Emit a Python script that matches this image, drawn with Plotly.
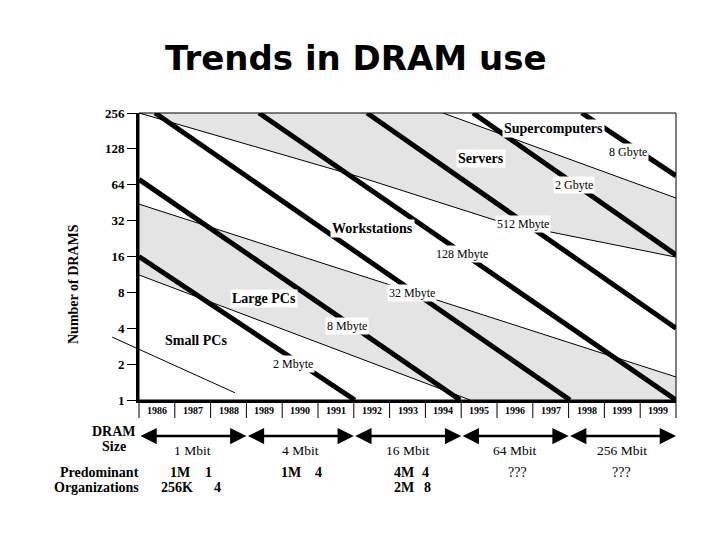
import math
import plotly.graph_objects as go

# ---------------- data ----------------
years = ["1986", "1987", "1988", "1989", "1990", "1991", "1992", "1993",
         "1994", "1995", "1996", "1997", "1998", "1999", "1999"]
y_tick_vals = [1, 2, 4, 8, 16, 32, 64, 128, 256]

# thick lines: total memory size (x in year-columns, y = number of DRAMs)
mem_labels = ["2 Mbyte", "8 Mbyte", "32 Mbyte", "128 Mbyte", "512 Mbyte", "2 Gbyte", "8 Gbyte"]
mem_x0 = [0, 0, 0.45, 3.35, 6.37, 9.33, 12.37]
mem_y0 = [16, 71, 256, 256, 256, 256, 256]
mem_x1 = [6.03, 8.97, 12.04, 15, 15, 15, 15]
mem_y1 = [1, 1, 1, 1, 4, 16.5, 76]

# thin boundary lines between market segments
small_lo_x = [-0.75, 2.68]
small_lo_y = [3.37, 1.15]
small_hi_x = [0, 9.25]
small_hi_y = [11.2, 1]
large_hi_x = [0, 15]
large_hi_y = [44, 1.56]
work_hi_x = [0, 6.17, 10.1, 15]
work_hi_y = [256, 74.3, 31.2, 15.8]
serv_hi_x = [8.49, 15]
serv_hi_y = [256, 49.5]

segments = ["Supercomputers", "Servers", "Workstations", "Large PCs", "Small PCs"]
dram_sizes = ["1 Mbit", "4 Mbit", "16 Mbit", "64 Mbit", "256 Mbit"]
dram_start = [0, 3, 6, 9, 12]
dram_end = [3, 6, 9, 12, 15]
org_tokens = ["1M", "1", "256K", "4", "1M", "4", "4M", "4", "2M", "8", "???", "???"]

# ---------------- geometry ----------------
W, H = 720, 540
L, R, T, B = 100, 44, 113, 140
AX_LEFT = 139
plot_w = W - L - R
plot_h = H - T - B
d = (AX_LEFT - L) / plot_w
ncol = len(years)
col_px = (W - R - AX_LEFT) / ncol
x2_min = -(AX_LEFT - L) / col_px
ytop = math.log10(y_tick_vals[-1])


def px(xp):
    return (xp - L) / plot_w


def py(yp):
    return (H - B - yp) / plot_h


SERIF = "Liberation Serif"
GRAY = "#e4e4e4"

fig = go.Figure()

# shaded segments
servers_x = [0] + serv_hi_x + work_hi_x[::-1]
servers_y = [y_tick_vals[-1]] + serv_hi_y + work_hi_y[::-1]
large_x = large_hi_x + [ncol] + small_hi_x[::-1]
large_y = large_hi_y + [y_tick_vals[0]] + small_hi_y[::-1]
for fx, fy in [(servers_x, servers_y), (large_x, large_y)]:
    fig.add_trace(go.Scatter(x=fx, y=fy, fill="toself", fillcolor=GRAY, mode="lines",
                             line=dict(width=0, color=GRAY), hoverinfo="skip",
                             showlegend=False))

# thin boundary lines
for bx, by in [(small_hi_x, small_hi_y), (large_hi_x, large_hi_y),
               (work_hi_x, work_hi_y), (serv_hi_x, serv_hi_y)]:
    fig.add_trace(go.Scatter(x=bx, y=by, mode="lines", line=dict(width=1, color="black"),
                             hoverinfo="skip", showlegend=False))
fig.add_trace(go.Scatter(x=small_lo_x, y=small_lo_y, mode="lines",
                         line=dict(width=1, color="black"), xaxis="x2", yaxis="y2",
                         hoverinfo="skip", showlegend=False))

# thick memory-size lines
for i in range(len(mem_labels)):
    fig.add_trace(go.Scatter(x=[mem_x0[i], mem_x1[i]], y=[mem_y0[i], mem_y1[i]],
                             mode="lines", line=dict(width=5, color="black"),
                             hoverinfo="skip", showlegend=False, name=mem_labels[i]))

ann = []


def label(text, xp, yp, size=12, bold=False, bg="white", xanchor="center", angle=0):
    ann.append(dict(text=text, x=px(xp), y=py(yp), xref="paper", yref="paper",
                    showarrow=False, xanchor=xanchor, yanchor="middle",
                    textangle=angle,
                    font=dict(family=SERIF, size=size, color="black",
                              weight="bold" if bold else "normal"),
                    bgcolor=bg, borderpad=1))


# segment labels
seg_pos = [(553, 128), (481, 158), (372, 228), (264, 298), (196, 340)]
for s, (xp, yp) in zip(segments, seg_pos):
    label(s, xp, yp, size=14, bold=True)

# memory labels
mem_pos = [(293, 364), (347, 326), (412, 293), (462, 254), (523, 224), (574, 185), (628, 152)]
for s, (xp, yp) in zip(mem_labels, mem_pos):
    label(s, xp, yp, size=12)

# title
ann.append(dict(text="Trends in DRAM use", x=px(356), y=py(58), xref="paper", yref="paper",
                showarrow=False, xanchor="center", yanchor="middle",
                font=dict(family="DejaVu Sans", size=34, color="black", weight="bold")))

# y-axis title
label("Number of DRAMS", 73, 284, size=14, bold=True, bg="rgba(0,0,0,0)", angle=-90)

# year cells
for i, yr in enumerate(years):
    ann.append(dict(text=yr, x=i + 0.5, y=py(410), xref="x", yref="paper", showarrow=False,
                    xanchor="center", yanchor="middle",
                    font=dict(family=SERIF, size=10, color="black", weight="bold")))

# DRAM size row
label("DRAM", 114, 431, size=14, bold=True, bg="rgba(0,0,0,0)")
label("Size", 114, 446, size=14, bold=True, bg="rgba(0,0,0,0)")
for i, s in enumerate(dram_sizes):
    ann.append(dict(text="", x=dram_end[i], y=py(436), xref="x", yref="paper",
                    ax=dram_start[i], ay=0, axref="x", showarrow=True,
                    arrowside="end+start", arrowhead=2, startarrowhead=2,
                    arrowsize=1.3, startarrowsize=1.3, arrowwidth=2.5,
                    arrowcolor="black", standoff=0, startstandoff=0))
    ann.append(dict(text=s, x=(dram_start[i] + dram_end[i]) / 2, y=py(450), xref="x",
                    yref="paper", showarrow=False, xanchor="center", yanchor="middle",
                    font=dict(family=SERIF, size=13.5, color="black")))

# organizations row
label("Predominant", 141, 472, size=14, bold=True, bg="rgba(0,0,0,0)", xanchor="right")
label("Organizations", 141, 487, size=14, bold=True, bg="rgba(0,0,0,0)", xanchor="right")
org_pos = [(180, 472), (208, 472), (177, 487), (217, 487), (291, 472), (318, 472),
           (404, 472), (425, 472), (404, 487), (427, 487), (517, 472), (621, 472)]
for s, (xp, yp) in zip(org_tokens, org_pos):
    label(s, xp, yp, size=14, bold=(s != "???"), bg="rgba(0,0,0,0)")

# shapes: top/right border and year-cell separators
shapes = [dict(type="rect", xref="x domain", yref="y domain", x0=0, x1=1, y0=0, y1=1,
               line=dict(color="black", width=1), layer="above")]
cell_bottom = py(418)
for xd in [0, 1]:
    shapes.append(dict(type="line", xref="x domain", yref="paper", x0=xd, x1=xd,
                       y0=0, y1=cell_bottom, line=dict(color="black", width=1)))
for i in range(1, ncol):
    shapes.append(dict(type="line", xref="x", yref="paper", x0=i, x1=i,
                       y0=0, y1=cell_bottom, line=dict(color="black", width=1)))

fig.update_layout(
    width=W, height=H,
    margin=dict(l=L, r=R, t=T, b=B),
    paper_bgcolor="white", plot_bgcolor="rgba(0,0,0,0)",
    showlegend=False,
    xaxis=dict(domain=[d, 1], range=[0, ncol], showline=True, linewidth=3,
               linecolor="black", showticklabels=False, ticks="", showgrid=False,
               zeroline=False, anchor="y"),
    yaxis=dict(domain=[0, 1], type="log", range=[0, ytop], tickvals=y_tick_vals,
               ticktext=[str(v) for v in y_tick_vals], ticks="outside", ticklen=9,
               tickwidth=1, tickcolor="black", showline=True, linewidth=3,
               linecolor="black", showgrid=False, zeroline=False, anchor="x",
               tickfont=dict(family=SERIF, size=13, color="black", weight="bold")),
    xaxis2=dict(domain=[0, 1], range=[x2_min, ncol], visible=False, anchor="y2"),
    yaxis2=dict(domain=[0, 1], type="log", range=[0, ytop], visible=False, anchor="x2"),
    annotations=ann,
    shapes=shapes,
)

fig.write_html("out.html")
